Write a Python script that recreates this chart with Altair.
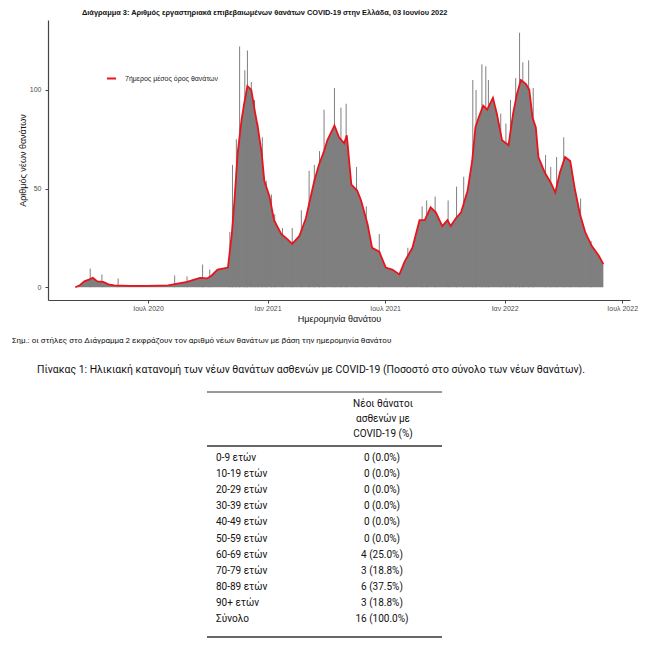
import altair as alt
import pandas as pd

TITLE = "Διάγραμμα 3: Αριθμός εργαστηριακά επιβεβαιωμένων θανάτων COVID-19 στην Ελλάδα, 03 Ιουνίου 2022"
NOTE = "Σημ.: οι στήλες στο Διάγραμμα 2 εκφράζουν τον αριθμό νέων θανάτων με βάση την ημερομηνία θανάτου"
TABLE_TITLE = "Πίνακας 1: Ηλικιακή κατανομή των νέων θανάτων ασθενών με COVID-19 (Ποσοστό στο σύνολο των νέων θανάτων)."
HEADER = "Νέοι θάνατοι\nασθενών με\nCOVID-19 (%)"
SERIES = "7ήμερος μέσος όρος θανάτων"

# 7-day average of deaths
avg_dates = [
    "2020-03-11", "2020-03-18", "2020-03-25", "2020-04-02", "2020-04-07", "2020-04-14",
    "2020-04-23", "2020-05-01", "2020-05-10", "2020-06-01", "2020-07-01", "2020-08-01",
    "2020-08-30", "2020-09-19", "2020-09-30", "2020-10-07", "2020-10-16", "2020-11-01",
    "2020-11-07", "2020-11-11", "2020-11-16", "2020-11-22", "2020-11-26", "2020-12-01",
    "2020-12-07", "2020-12-12", "2020-12-17", "2020-12-23", "2020-12-27", "2021-01-04",
    "2021-01-11", "2021-01-22", "2021-01-31", "2021-02-08", "2021-02-19", "2021-03-01",
    "2021-03-14", "2021-03-21", "2021-03-29", "2021-04-03", "2021-04-14", "2021-04-21",
    "2021-04-29", "2021-05-03", "2021-05-10", "2021-05-19", "2021-05-25", "2021-06-04",
    "2021-06-11", "2021-06-22", "2021-07-02", "2021-07-12", "2021-07-23", "2021-07-31",
    "2021-08-12", "2021-08-23", "2021-08-31", "2021-09-09", "2021-09-17", "2021-09-27",
    "2021-10-05", "2021-10-10", "2021-10-18", "2021-10-26", "2021-11-05", "2021-11-12",
    "2021-11-17", "2021-11-22", "2021-11-29", "2021-12-05", "2021-12-14", "2021-12-20",
    "2021-12-28", "2022-01-07", "2022-01-14", "2022-01-20", "2022-01-26", "2022-02-03",
    "2022-02-08", "2022-02-13", "2022-02-18", "2022-02-22", "2022-03-04", "2022-03-13",
    "2022-03-20", "2022-03-27", "2022-04-04", "2022-04-12", "2022-04-19", "2022-04-27",
    "2022-05-05", "2022-05-15", "2022-05-26", "2022-06-02",
]
avg_values = [
    0, 1, 3, 4, 4.8, 3,
    2.7, 1.5, 1, 0.7, 0.7, 1,
    2.7, 4.8, 4.5, 6, 9, 10,
    27, 44, 68, 85, 93, 102,
    100, 90, 81, 68, 54, 46,
    34, 27, 24.5, 22, 26, 35,
    54, 62, 69, 74.5, 82, 76,
    73, 77, 52, 49, 44, 32,
    20, 18, 10, 9, 6.5, 13,
    20, 34, 34, 40.5, 38, 31,
    34, 31, 35, 38, 49, 64,
    81, 86, 92, 90, 96, 88,
    74.5, 72, 88, 98, 105, 103,
    100, 86, 81, 66, 58, 53,
    48, 58, 66, 64, 50, 37,
    28, 21, 16, 11.7,
]

# Daily counts that stand out above the average
spike_dates = [
    "2020-04-03", "2020-04-21", "2020-05-16", "2020-08-11", "2020-08-30", "2020-09-23",
    "2020-10-04", "2020-11-04", "2020-11-08", "2020-11-14", "2020-11-19", "2020-11-27",
    "2020-12-01", "2020-12-07", "2020-12-12", "2020-12-17", "2020-12-24", "2020-12-30",
    "2021-01-07", "2021-01-12", "2021-01-24", "2021-02-08", "2021-02-22", "2021-03-06",
    "2021-03-14", "2021-03-22", "2021-03-29", "2021-04-14", "2021-04-24", "2021-05-02",
    "2021-05-18", "2021-06-02", "2021-06-22", "2021-08-05", "2021-08-27", "2021-09-03",
    "2021-09-16", "2021-10-06", "2021-10-19", "2021-10-30", "2021-11-13", "2021-11-18",
    "2021-11-27", "2021-12-03", "2021-12-07", "2021-12-26", "2022-01-03", "2022-01-10",
    "2022-01-18", "2022-01-24", "2022-01-29", "2022-02-07", "2022-02-14", "2022-03-05",
    "2022-03-13", "2022-03-22", "2022-04-02", "2022-04-12", "2022-04-28", "2022-05-14",
]
spike_values = [
    9.5, 6.5, 4.5, 6, 5.5, 11.5,
    9, 28, 62, 75, 122, 110,
    120, 104, 95, 83, 76, 54,
    47, 37, 30, 30, 39, 59,
    62, 69, 90, 101, 91, 93,
    61, 41, 27, 20, 41, 44,
    46, 44, 51, 56, 105, 100,
    113, 112, 105, 88, 83, 95,
    106, 129, 114, 115, 101, 67,
    61, 66, 76, 63, 45, 23.5,
]

# Table 1
age_groups = ["0-9 ετών", "10-19 ετών", "20-29 ετών", "30-39 ετών", "40-49 ετών",
              "50-59 ετών", "60-69 ετών", "70-79 ετών", "80-89 ετών", "90+ ετών", "Σύνολο"]
new_deaths = [0, 0, 0, 0, 0, 0, 4, 3, 6, 3, 16]
shares = [0.0, 0.0, 0.0, 0.0, 0.0, 0.0, 25.0, 18.8, 37.5, 18.8, 100.0]

x_ticks = [(2020, 7), (2021, 1), (2021, 7), (2022, 1), (2022, 7)]

AXFONT = "Liberation Sans"
TFONT = "Roboto"
GREY = "#7f7f7f"
RED = "#e8141b"

avg_df = pd.DataFrame({"date": avg_dates, "avg": avg_values, "series": SERIES})
spike_df = pd.DataFrame({"date": spike_dates, "deaths": spike_values})

xscale = alt.Scale(type="utc", nice=False,
                   domain=[alt.DateTime(year=2020, month=1, date=29, utc=True),
                           alt.DateTime(year=2022, month=7, date=13, utc=True)])
yscale = alt.Scale(domain=[-6.45, 135.45], nice=False, zero=False)

xaxis = alt.Axis(
    values=[alt.DateTime(year=y, month=m, date=1, utc=True) for y, m in x_ticks],
    labelExpr="(utcmonth(datum.value) == 6 ? 'Ιουλ ' : 'Ιαν ') + utcyear(datum.value)",
    grid=False, domainColor="#444", domainWidth=1.2, tickColor="#444", tickSize=3,
    labelColor="#4d4d4d", labelFont=AXFONT, labelFontSize=7, labelPadding=1,
    titleFont=AXFONT, titleFontSize=9, titleFontWeight="normal", titleColor="#111",
    titlePadding=3,
)
yaxis = alt.Axis(
    values=[0, 50, 100], grid=False, domainColor="#444", domainWidth=1.2,
    tickColor="#444", tickSize=3, labelColor="#4d4d4d", labelFont=AXFONT,
    labelFontSize=7, labelPadding=4, titleFont=AXFONT, titleFontSize=9,
    titleFontWeight="normal", titleColor="#111", titlePadding=2,
)

X = alt.X("date:T", scale=xscale, axis=xaxis, title="Ημερομηνία θανάτου")

area = alt.Chart(avg_df).mark_area(color=GREY).encode(
    x=X,
    y=alt.Y("avg:Q", scale=yscale, axis=yaxis, title="Αριθμός νέων θανάτων"),
    y2=alt.datum(0),
)
spikes = alt.Chart(spike_df).mark_rule(color=GREY, strokeWidth=1).encode(
    x=X,
    y=alt.Y("deaths:Q", scale=yscale),
    y2=alt.datum(0),
)
line = alt.Chart(avg_df).mark_line(strokeWidth=1.8).encode(
    x=X,
    y=alt.Y("avg:Q", scale=yscale),
    color=alt.Color(
        "series:N", scale=alt.Scale(range=[RED]), title=None,
        legend=alt.Legend(orient="none", legendX=58, legendY=53, symbolType="stroke",
                          symbolStrokeWidth=2, symbolSize=80, labelFont=AXFONT,
                          labelFontSize=7, labelColor="#222", labelOffset=8, padding=0),
    ),
)

plot = alt.layer(area, spikes, line).properties(
    width=582, height=280,
    title=alt.TitleParams(TITLE, anchor="start", frame="group", dx=34, offset=4,
                          font="Liberation Sans", fontSize=7.4,
                          fontWeight="bold", color="#111"),
)

# ---- lower part: note and table ----
one = pd.DataFrame({"k": [0]})
table_df = pd.DataFrame({
    "group": age_groups,
    "cell": [f"{d} ({s:.1f}%)" for d, s in zip(new_deaths, shares)],
})
rowscale = alt.Scale(type="point", domain=age_groups, range=[127, 288], padding=0)

note = alt.Chart(one).mark_text(align="left", baseline="middle", font=TFONT,
                                fontSize=8, color="#111", text=NOTE).encode(
    x=alt.value(-36), y=alt.value(10))
ttitle = alt.Chart(one).mark_text(align="center", baseline="middle", font=TFONT,
                                  fontSize=10.45, color="#111", text=TABLE_TITLE).encode(
    x=alt.value(263), y=alt.value(39))
header = alt.Chart(one).mark_text(align="center", baseline="middle", font=TFONT,
                                  fontSize=10, color="#111", text=HEADER,
                                  lineBreak="\n", lineHeight=15).encode(
    x=alt.value(335), y=alt.value(73))
rule_top = alt.Chart(one).mark_rule(color="#333", strokeWidth=1).encode(
    x=alt.value(159), x2=alt.value(394), y=alt.value(61))
rule_mid = alt.Chart(one).mark_rule(color="#666", strokeWidth=2).encode(
    x=alt.value(159), x2=alt.value(394), y=alt.value(115))
rule_bot = alt.Chart(one).mark_rule(color="#666", strokeWidth=2).encode(
    x=alt.value(159), x2=alt.value(394), y=alt.value(306))
labels = alt.Chart(table_df).mark_text(align="left", baseline="middle", font=TFONT,
                                       fontSize=10, color="#111").encode(
    x=alt.value(168), y=alt.Y("group:N", scale=rowscale, axis=None), text="group:N")
cells = alt.Chart(table_df).mark_text(align="center", baseline="middle", font=TFONT,
                                      fontSize=10, color="#111").encode(
    x=alt.value(334), y=alt.Y("group:N", scale=rowscale, axis=None), text="cell:N")

lower = alt.layer(note, ttitle, rule_top, header, rule_mid, labels, cells, rule_bot).properties(
    width=582, height=310)

chart = alt.vconcat(plot, lower, spacing=8).properties(
    padding={"left": 4, "top": 0, "right": 0, "bottom": 0}
).configure_view(stroke=None)

chart.save("out.html", embed_options={"renderer": "svg", "actions": False})
